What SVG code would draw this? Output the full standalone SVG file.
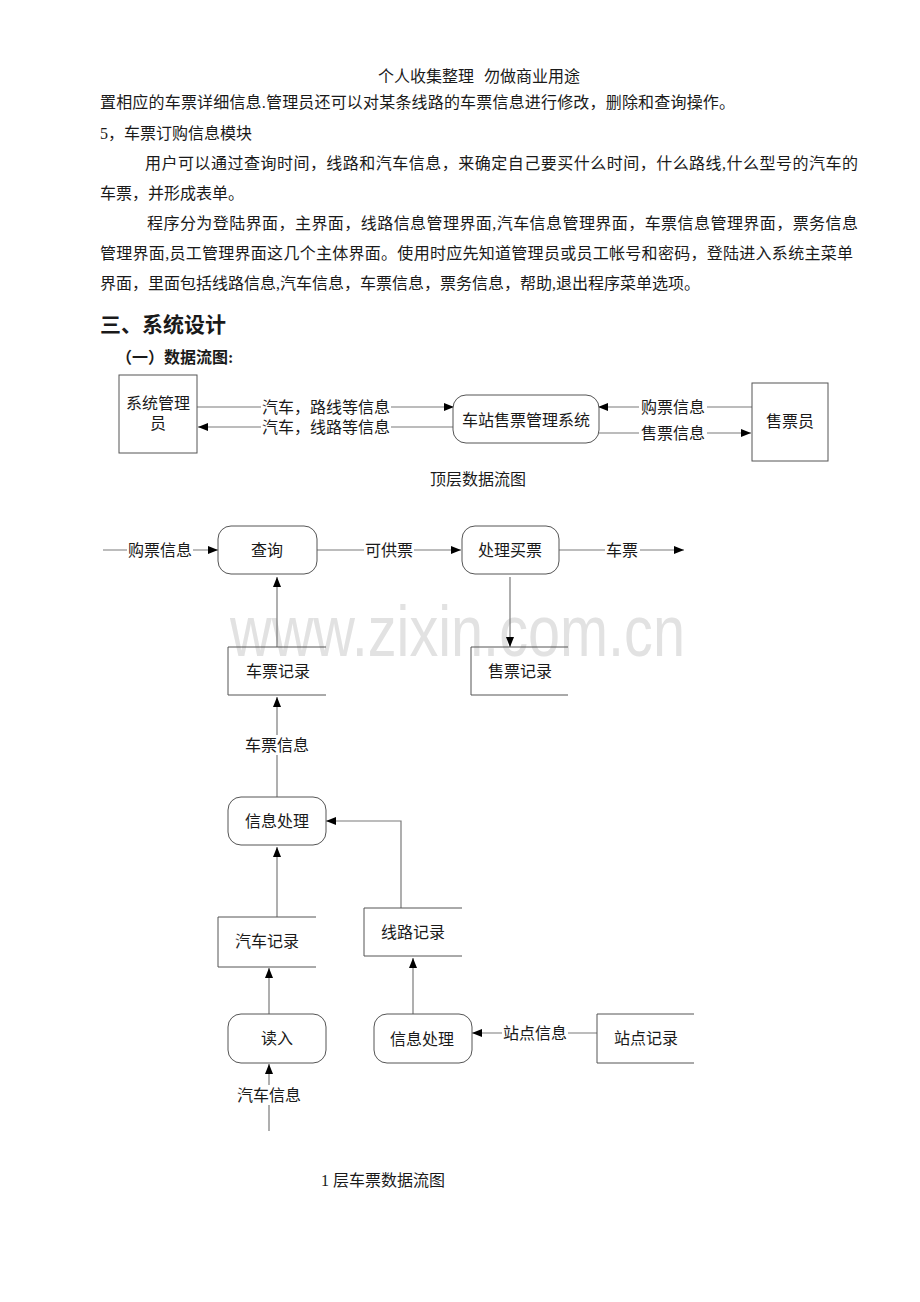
<svg xmlns="http://www.w3.org/2000/svg" width="920" height="1302" viewBox="0 0 920 1302">
<style>
.t{font-family:"Liberation Serif","Noto Sans CJK SC",serif;font-size:16px;fill:#1a1a1a}
.c{text-anchor:middle}
.b{font-weight:bold}
.box{fill:none;stroke:#555;stroke-width:1}
.rbox{fill:#fff;stroke:#555;stroke-width:1}
.ln{fill:none;stroke:#7a7a7a;stroke-width:1.2}
.bg{fill:#fff}
.wm{font-family:"Liberation Sans",Arial,sans-serif;font-size:72px;fill:#e2e2e2}
</style>
<defs>
<marker id="ah" viewBox="0 0 10 8" refX="10" refY="4" markerWidth="10" markerHeight="8" orient="auto" markerUnits="userSpaceOnUse"><path d="M0,0 L10,4 L0,8 z" fill="#000"/></marker>
</defs>
<rect width="920" height="1302" fill="#fff"/>
<text class="wm" x="230" y="656" textLength="455" lengthAdjust="spacingAndGlyphs">www.zixin.com.cn</text>

<g id="body-text">
<text class="t" x="378" y="82">个人收集整理</text>
<text class="t" x="484" y="82">勿做商业用途</text>
<text class="t" x="100" y="108" textLength="635" lengthAdjust="spacing">置相应的车票详细信息.管理员还可以对某条线路的车票信息进行修改，删除和查询操作。</text>
<text class="t" x="100" y="139">5，车票订购信息模块</text>
<text class="t" x="145" y="169" textLength="713" lengthAdjust="spacing">用户可以通过查询时间，线路和汽车信息，来确定自己要买什么时间，什么路线,什么型号的汽车的</text>
<text class="t" x="100" y="199">车票，并形成表单。</text>
<text class="t" x="147" y="229" textLength="711" lengthAdjust="spacing">程序分为登陆界面，主界面，线路信息管理界面,汽车信息管理界面，车票信息管理界面，票务信息</text>
<text class="t" x="100" y="259" textLength="753" lengthAdjust="spacing">管理界面,员工管理界面这几个主体界面。使用时应先知道管理员或员工帐号和密码，登陆进入系统主菜单</text>
<text class="t" x="100" y="289">界面，里面包括线路信息,汽车信息，车票信息，票务信息，帮助,退出程序菜单选项。</text>
<text class="t b" x="100" y="332" style="font-size:21px">三、系统设计</text>
<text class="t b" x="116" y="363">（一）数据流图:</text>
<text class="t c" x="478" y="485">顶层数据流图</text>
<text class="t c" x="383" y="1186">1 层车票数据流图</text>
</g>

<g id="connectors">
<path class="ln" d="M197,407 H454" marker-end="url(#ah)"/>
<rect class="bg" x="261" y="397" width="130" height="20"/>
<text class="t c" x="326" y="413">汽车，路线等信息</text>
<path class="ln" d="M455,427 H198" marker-end="url(#ah)"/>
<rect class="bg" x="261" y="417" width="130" height="20"/>
<text class="t c" x="326" y="433">汽车，线路等信息</text>
<path class="ln" d="M752,407 H598" marker-end="url(#ah)"/>
<rect class="bg" x="639" y="397" width="68" height="20"/>
<text class="t c" x="673" y="413">购票信息</text>
<path class="ln" d="M599,433 H751" marker-end="url(#ah)"/>
<rect class="bg" x="639" y="423" width="68" height="20"/>
<text class="t c" x="673" y="439">售票信息</text>

<path class="ln" d="M103,550 H218" marker-end="url(#ah)"/>
<rect class="bg" x="127" y="540" width="66" height="20"/>
<text class="t c" x="160" y="556">购票信息</text>
<path class="ln" d="M317,550 H461" marker-end="url(#ah)"/>
<rect class="bg" x="364" y="540" width="50" height="20"/>
<text class="t c" x="389" y="556">可供票</text>
<path class="ln" d="M559,550 H684" marker-end="url(#ah)"/>
<rect class="bg" x="605" y="540" width="35" height="20"/>
<text class="t c" x="622" y="556">车票</text>
<path class="ln" d="M510,577 V647" marker-end="url(#ah)"/>
<path class="ln" d="M277,647 V577" marker-end="url(#ah)"/>
<path class="ln" d="M277,797 V697" marker-end="url(#ah)"/>
<rect class="bg" x="243" y="735" width="68" height="20"/>
<text class="t c" x="277" y="751">车票信息</text>
<path class="ln" d="M401,908 V821 H326" marker-end="url(#ah)"/>
<path class="ln" d="M277,917 V847" marker-end="url(#ah)"/>
<path class="ln" d="M413,1014 V958" marker-end="url(#ah)"/>
<path class="ln" d="M269,1014 V968" marker-end="url(#ah)"/>
<path class="ln" d="M269,1131 V1064" marker-end="url(#ah)"/>
<rect class="bg" x="235" y="1085" width="68" height="20"/>
<text class="t c" x="269" y="1101">汽车信息</text>
<path class="ln" d="M597,1033 H472" marker-end="url(#ah)"/>
<rect class="bg" x="502" y="1023" width="66" height="20"/>
<text class="t c" x="535" y="1039">站点信息</text>
</g>

<g id="n-sysadmin"><rect class="box" x="119" y="375" width="78" height="78"/><text class="t c" x="158" y="409">系统管理</text><text class="t c" x="158" y="429">员</text></g>
<g id="n-system"><rect class="rbox" x="453" y="395" width="146" height="48" rx="13"/><text class="t c" x="526" y="426">车站售票管理系统</text></g>
<g id="n-seller"><rect class="box" x="752" y="383" width="76" height="78"/><text class="t c" x="790" y="427">售票员</text></g>

<g id="n-query"><rect class="rbox" x="218" y="526" width="99" height="48" rx="13"/><text class="t c" x="267" y="556">查询</text></g>
<g id="n-buy"><rect class="rbox" x="462" y="526" width="97" height="48" rx="13"/><text class="t c" x="510" y="556">处理买票</text></g>
<g id="n-ticketrec"><path class="box" d="M326,647 H228 V695 H326"/><text class="t c" x="278" y="677">车票记录</text></g>
<g id="n-salerec"><path class="box" d="M568,647 H471 V695 H568"/><text class="t c" x="520" y="677">售票记录</text></g>
<g id="n-info1"><rect class="rbox" x="228" y="797" width="98" height="48" rx="13"/><text class="t c" x="277" y="827">信息处理</text></g>
<g id="n-busrec"><path class="box" d="M316,917 H218 V967 H316"/><text class="t c" x="267" y="947">汽车记录</text></g>
<g id="n-routerec"><path class="box" d="M462,908 H364 V956 H462"/><text class="t c" x="413" y="938">线路记录</text></g>
<g id="n-read"><rect class="rbox" x="228" y="1014" width="98" height="49" rx="13"/><text class="t c" x="277" y="1044">读入</text></g>
<g id="n-info2"><rect class="rbox" x="374" y="1014" width="98" height="49" rx="13"/><text class="t c" x="422" y="1045">信息处理</text></g>
<g id="n-stationrec"><path class="box" d="M694,1014 H597 V1063 H694"/><text class="t c" x="646" y="1044">站点记录</text></g>
</svg>
